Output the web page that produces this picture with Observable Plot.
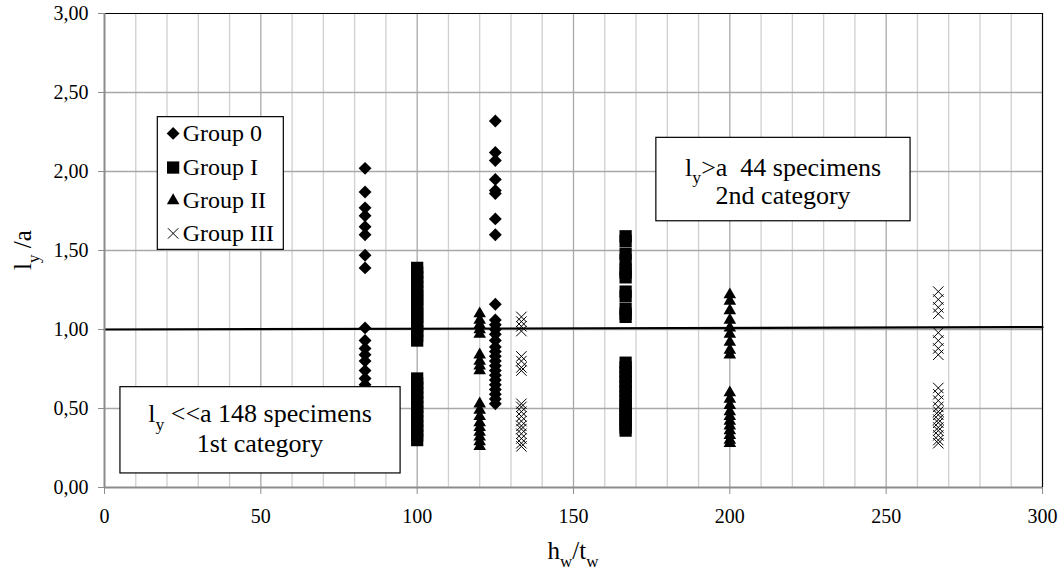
<!DOCTYPE html>
<html>
<head>
<meta charset="utf-8">
<script src="https://cdn.jsdelivr.net/npm/d3@7"></script>
<script src="https://cdn.jsdelivr.net/npm/@observablehq/plot@0.6"></script>
<style>
  html, body { margin: 0; padding: 0; background: #fff; }
  #chart svg { display: block; }
</style>
</head>
<body>
<div id="chart"></div>
<script>
// ---------------- data ----------------
const groupNames = ["Group 0", "Group I", "Group II", "Group III"];

// Group 0 (diamonds)
const g0X83 = [2.02, 1.87, 1.77, 1.72, 1.65, 1.60, 1.47, 1.39, 1.01, 0.93, 0.88, 0.84, 0.80, 0.74, 0.69, 0.65, 0.61, 0.57];
const g0X125 = [2.32, 2.12, 2.07, 1.95, 1.88, 1.86, 1.70, 1.60, 1.16, 1.06, 1.03, 1.00, 0.97, 0.93, 0.89, 0.86, 0.83, 0.80, 0.77, 0.74, 0.71, 0.68, 0.65, 0.62, 0.59, 0.56, 0.53];

// Group I (squares)
const g1X100 = [1.39, 1.36, 1.33, 1.30, 1.27, 1.24, 1.21, 1.19, 1.16, 1.13, 1.10, 1.08, 1.05, 1.02, 0.99, 0.96, 0.93,
                0.69, 0.66, 0.63, 0.60, 0.57, 0.54, 0.51, 0.48, 0.45, 0.42, 0.39, 0.36, 0.33, 0.30];
const g1X167 = [1.59, 1.56, 1.48, 1.44, 1.38, 1.36, 1.33, 1.24, 1.21, 1.13, 1.10, 1.08,
                0.79, 0.76, 0.73, 0.70, 0.67, 0.64, 0.61, 0.58, 0.55, 0.52, 0.50, 0.47, 0.45, 0.43, 0.40, 0.38, 0.36];

// Group II (triangles)
const g2X120 = [1.10, 1.06, 1.03, 1.00, 0.97, 0.84, 0.80, 0.77, 0.74,
                0.53, 0.49, 0.45, 0.41, 0.38, 0.35, 0.32, 0.29, 0.26];
const g2X200 = [1.22, 1.18, 1.12, 1.06, 1.01, 0.97, 0.92, 0.87, 0.84,
                0.60, 0.56, 0.52, 0.48, 0.45, 0.42, 0.39, 0.36, 0.33, 0.30, 0.28];

// Group III (crosses)
const g3X133 = [1.08, 1.05, 1.02, 0.99, 0.83, 0.80, 0.76, 0.74,
                0.53, 0.51, 0.48, 0.45, 0.42, 0.39, 0.37, 0.34, 0.31, 0.28, 0.26];
const g3X267 = [1.24, 1.19, 1.14, 1.10, 0.98, 0.93, 0.88, 0.84,
                0.63, 0.59, 0.55, 0.51, 0.48, 0.46, 0.43, 0.41, 0.38, 0.36, 0.33, 0.30, 0.28];

// x positions (h_w / t_w) of the specimen columns
const xCol83 = 83.33, xCol100 = 100, xCol120 = 120, xCol125 = 125,
      xCol133 = 133.33, xCol167 = 166.67, xCol200 = 200, xCol267 = 266.67;

// reference line l_y / a = 1
const refLine = [{x: 0, y: 1.0}, {x: 300, y: 1.015}];

// axes ticks
const xTicks = [0, 50, 100, 150, 200, 250, 300];
const xMinor = [10, 20, 30, 40, 60, 70, 80, 90, 110, 120, 130, 140, 160, 170, 180, 190, 210, 220, 230, 240, 260, 270, 280, 290];
const yTicks = [0, 0.5, 1.0, 1.5, 2.0, 2.5, 3.0];

// ---------------- build tables ----------------
const col = (x, vals, g) => vals.map(v => ({x, y: v, g}));
const pts0 = [...col(xCol83, g0X83, groupNames[0]), ...col(xCol125, g0X125, groupNames[0])];
const pts1 = [...col(xCol100, g1X100, groupNames[1]), ...col(xCol167, g1X167, groupNames[1])];
const pts2 = [...col(xCol120, g2X120, groupNames[2]), ...col(xCol200, g2X200, groupNames[2])];
const pts3 = [...col(xCol133, g3X133, groupNames[3]), ...col(xCol267, g3X267, groupNames[3])];

// ---------------- annotation layout (data coords) ----------------
const legendBox = {x1: 17.05, x2: 57.35, y1: 1.504, y2: 2.344};
const legendRowY = [2.241, 2.025, 1.816, 1.608];
const legendMarkX = 21.95, legendTextX = 25.0;
const box1 = {x1: 5.1, x2: 94.7, y1: 0.089, y2: 0.635};
const box2 = {x1: 176.5, x2: 257.8, y1: 1.685, y2: 2.213};

const FONT = "Liberation Serif";
const symStyle = [
  {symbol: "diamond2", fill: "#000", r: 5.8},
  {symbol: "square2", fill: "#000", r: 7.8},
  {symbol: "triangle2", fill: "#000", r: 6.0},
  {symbol: "times", stroke: "#000", r: 4.8, strokeWidth: 1}
];
const one = (x, y) => [{x, y}];

const chart = Plot.plot({
  width: 1062,
  height: 571,
  marginLeft: 104,
  marginRight: 20,
  marginTop: 13,
  marginBottom: 84,
  x: {domain: [0, 300]},
  y: {domain: [0, 3]},
  marks: [
    Plot.ruleX(xMinor, {stroke: "#d0d0d0", strokeWidth: 1.3}),
    Plot.ruleX(xTicks.slice(1, -1), {stroke: "#a8a8a8", strokeWidth: 1.3}),
    Plot.ruleY(yTicks.slice(1, -1), {stroke: "#a8a8a8", strokeWidth: 1.3}),
    Plot.ruleY([3], {stroke: "#000", strokeWidth: 1.2}),
    Plot.ruleX([300], {stroke: "#000", strokeWidth: 1.2}),
    Plot.dot(pts0, {x: "x", y: "y", ...symStyle[0]}),
    Plot.dot(pts1, {x: "x", y: "y", ...symStyle[1]}),
    Plot.dot(pts2, {x: "x", y: "y", ...symStyle[2]}),
    Plot.dot(pts3, {x: "x", y: "y", ...symStyle[3]}),
    Plot.line(refLine, {x: "x", y: "y", stroke: "#000", strokeWidth: 2.2}),
    Plot.rect([box1, box2, legendBox], {x1: "x1", x2: "x2", y1: "y1", y2: "y2", fill: "#fff", stroke: "#000", strokeWidth: 1.2}),
    ...groupNames.map((g, i) => Plot.dot(one(legendMarkX, legendRowY[i]), {x: "x", y: "y", ...symStyle[i]})),
    Plot.text(groupNames.map((g, i) => ({x: legendTextX, y: legendRowY[i], g})),
      {x: "x", y: "y", text: "g", textAnchor: "start", fontSize: 24, fill: "#000"}),
    Plot.axisX({ticks: xTicks, tickSize: 7, tickPadding: 14, stroke: "#8c8c8c", fill: "#000", fontSize: 20, label: null}),
    Plot.axisY({ticks: yTicks, tickSize: 6, tickPadding: 10, stroke: "#8c8c8c", fill: "#000", fontSize: 20, label: null,
      tickFormat: d => d.toFixed(2).replace(".", ",")}),
    Plot.ruleY([0], {stroke: "#8c8c8c", strokeWidth: 2}),
    Plot.ruleX([0], {stroke: "#8c8c8c", strokeWidth: 2})
  ]
});
document.getElementById("chart").appendChild(chart);

// ---------------- rich text (subscripts) ----------------
const sx = chart.scale("x"), sy = chart.scale("y");
const svg = d3.select(chart);
function rich(px, py, parts, size, rotate) {
  const t = svg.append("text")
    .attr("text-anchor", "middle")
    .attr("font-size", size)
    .attr("fill", "#000")
    .attr("xml:space", "preserve");
  if (rotate) t.attr("transform", `translate(${px},${py}) rotate(-90)`);
  else t.attr("x", px).attr("y", py);
  const subSize = size * 0.68, shift = 0.3 * size;
  let shifted = false;
  parts.forEach(([s, sub]) => {
    const ts = t.append("tspan").text(s);
    if (sub) {
      ts.attr("font-size", subSize);
      if (!shifted) { ts.attr("dy", shift); shifted = true; }
    } else if (shifted) {
      ts.attr("dy", -shift); shifted = false;
    }
  });
  return t;
}
const BOX_FS = 26;
const c = (v) => v + 0.34 * BOX_FS;
// box 2 : 2nd category
rich(sx.apply(217.2), c(sy.apply(2.027)), [["l"], ["y", true], [">a\u00a0\u00a044 specimens"]], BOX_FS);
rich(sx.apply(217.2), c(sy.apply(1.848)), [["2nd category"]], BOX_FS);
// box 1 : 1st category
rich(sx.apply(49.9), c(sy.apply(0.467)), [["l"], ["y", true], [" <<a 148 specimens"]], BOX_FS);
rich(sx.apply(49.9), c(sy.apply(0.277)), [["1st category"]], BOX_FS);
// axis titles
rich((sx.apply(0) + sx.apply(300)) / 2, 559, [["h"], ["w", true], ["/t"], ["w", true]], 25);
rich(31, (sy.apply(0) + sy.apply(3)) / 2, [["l"], ["y", true], [" /a"]], 25, true);

// force the serif face on every text element (single family name)
svg.attr("font-family", FONT);
svg.selectAll("text, tspan").attr("font-family", FONT).style("font-family", FONT);
svg.selectAll("style").remove();
</script>
</body>
</html>
